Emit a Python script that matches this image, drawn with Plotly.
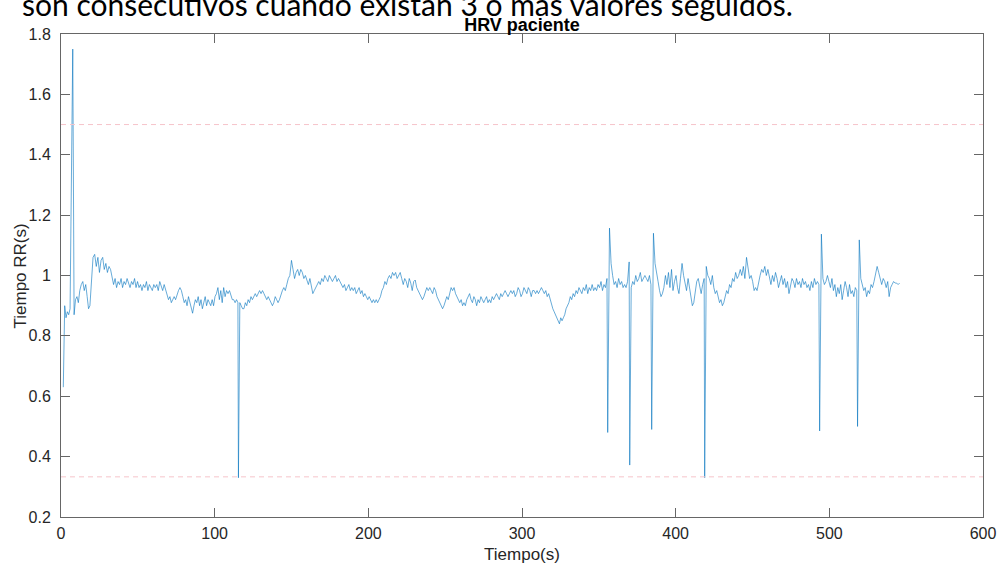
import numpy as np
import plotly.graph_objects as go

# RR intervals (s), beat by beat
rr_intervals = [
    0.63, 0.90, 0.86, 0.88, 0.87, 0.89, 1.75,
    0.87, 0.92, 0.93, 0.91, 0.95, 0.97, 0.98, 0.95, 0.97, 0.93, 0.89, 0.90, 0.97, 1.06,
    1.07, 1.03, 1.06, 1.01, 1.05, 1.06, 1.02, 1.04, 1.01, 1.03, 1.02, 0.99, 0.97,
    0.99, 0.96, 0.98, 0.97, 0.99, 0.96, 0.98, 0.97, 0.99, 0.97, 0.96, 0.98, 0.97, 0.99,
    0.96, 0.98, 0.96, 0.97, 0.95, 0.97, 0.96, 0.98, 0.95, 0.97, 0.96, 0.95, 0.97,
    0.96, 0.97, 0.95, 0.98, 0.96, 0.95, 0.97, 0.95,
    0.94, 0.92, 0.93, 0.91, 0.92, 0.93, 0.92, 0.94, 0.95, 0.96,
    0.95, 0.93, 0.91, 0.92, 0.90, 0.93, 0.91, 0.89, 0.875, 0.90, 0.92, 0.91, 0.93, 0.90,
    0.92, 0.89, 0.91, 0.93, 0.90, 0.92, 0.91, 0.90, 0.92, 0.90, 0.93,
    0.94, 0.96, 0.92, 0.95, 0.91, 0.96, 0.93, 0.95, 0.94, 0.95, 0.93, 0.92, 0.92, 0.91, 0.92, 0.91,
    0.33,
    0.91, 0.90, 0.89, 0.89, 0.91, 0.90, 0.92, 0.91, 0.93, 0.92, 0.93, 0.94, 0.93, 0.94,
    0.95, 0.94, 0.95, 0.94, 0.93, 0.92, 0.93, 0.92, 0.91, 0.90, 0.91, 0.93, 0.92, 0.91,
    0.92, 0.94, 0.95, 0.96, 0.95, 0.97, 0.99, 1.00, 1.05, 1.02, 0.99, 1.01,
    1.02, 1.00, 1.02, 1.01, 0.99, 1.00, 0.98, 0.97, 0.99, 0.96, 0.94, 0.95,
    0.96, 0.97, 0.98, 0.97, 0.99, 0.98, 1.00, 0.99, 0.98, 1.00, 0.99, 0.98, 0.99, 1.00, 0.98, 0.99, 0.98,
    0.97, 0.96, 0.97, 0.95, 0.96, 0.97, 0.95, 0.96, 0.95, 0.96, 0.94, 0.95, 0.96, 0.94,
    0.95, 0.93, 0.94, 0.93, 0.92, 0.93, 0.92, 0.91, 0.92, 0.91, 0.92,
    0.91, 0.92, 0.93, 0.95, 0.96, 0.98, 0.97, 0.99, 1.00, 0.99, 1.01, 1.00, 1.01, 0.99, 1.00, 1.01, 0.99,
    0.97, 0.99, 0.98, 0.96, 0.99, 0.975, 0.95, 0.98, 0.985, 0.96, 0.95, 0.94, 0.93, 0.92,
    0.93, 0.95, 0.96, 0.95, 0.96, 0.95, 0.94, 0.96, 0.95, 0.93, 0.92, 0.91, 0.90, 0.89,
    0.90, 0.92, 0.93, 0.92, 0.94, 0.96, 0.95, 0.96, 0.94, 0.93, 0.92, 0.91, 0.92, 0.90,
    0.91, 0.90, 0.92, 0.93, 0.94, 0.92, 0.91, 0.93, 0.92, 0.90, 0.92, 0.91, 0.93, 0.92, 0.91, 0.92, 0.93,
    0.91, 0.92, 0.91, 0.93, 0.92, 0.93, 0.94, 0.93, 0.92, 0.94, 0.93, 0.94, 0.95, 0.94, 0.93, 0.94,
    0.95, 0.94, 0.95, 0.93, 0.94, 0.96, 0.95, 0.93, 0.94, 0.96, 0.95, 0.94, 0.96, 0.95, 0.93, 0.95,
    0.95, 0.94, 0.95, 0.94, 0.95, 0.96, 0.95, 0.94, 0.95, 0.93, 0.94, 0.92, 0.90, 0.89,
    0.88, 0.87, 0.86, 0.85, 0.84, 0.86, 0.85, 0.86, 0.87, 0.89, 0.90, 0.91, 0.93, 0.92, 0.94, 0.93, 0.95,
    0.94, 0.96, 0.95,
    0.94, 0.96, 0.95, 0.97, 0.94, 0.96, 0.95, 0.97, 0.95, 0.96,
    0.95, 0.97, 0.96, 0.98, 0.95, 0.97, 0.96, 0.99,
    0.48, 1.157,
    1.04, 1.00, 0.97, 0.98, 0.96, 0.99, 0.97, 0.98, 0.96, 0.97, 0.96, 0.98,
    1.045, 0.372,
    0.96, 0.98, 0.97, 1.00, 0.98, 0.99, 1.01, 0.98, 0.99, 1.00, 0.99, 0.98, 1.00, 0.97,
    0.49, 1.14,
    1.04, 1.00, 0.98, 0.95, 0.93, 0.94, 0.96, 1.00, 0.97, 1.01, 0.96, 1.02, 0.95, 0.98,
    1.00, 0.96, 0.94, 0.99, 1.04, 1.00, 0.97, 0.95, 0.99, 0.96, 0.93, 0.90, 0.91, 0.95,
    0.98, 0.99, 0.96, 0.94, 0.97, 0.99,
    0.33, 1.03,
    1.00, 0.99, 0.97, 1.00, 0.96, 0.94, 0.95, 0.93, 0.91, 0.92, 0.90, 0.91, 0.93, 0.95,
    0.94, 0.97, 0.96, 0.99, 0.98, 1.01, 0.99, 1.00, 1.02, 1.00, 1.03, 0.99, 1.06,
    1.02, 0.99, 1.00, 0.98, 0.95, 0.96, 0.95, 0.98, 1.00, 1.02, 1.01, 1.03, 1.00, 1.02,
    0.99, 0.97, 1.00, 0.98, 1.01, 0.99, 0.96, 0.98, 1.00, 0.97, 0.99, 0.96, 0.98, 0.94,
    0.97, 0.99, 0.98, 0.96, 0.99, 0.97, 0.98, 0.96, 0.99, 0.97, 0.98, 0.96, 0.97, 0.95,
    0.98, 0.96, 0.99, 0.97, 0.98, 0.97,
    0.485, 1.137,
    0.99, 0.97, 0.98, 1.00, 0.98, 0.96, 0.99, 0.95, 0.97, 0.93, 0.96, 0.94, 0.97, 0.92,
    0.95, 0.98, 0.96, 0.93, 0.97, 0.94, 0.95, 0.93, 0.96, 0.95,
    0.50, 1.118,
    0.99, 0.97, 0.95, 0.96, 0.93, 0.95, 0.94, 0.97, 0.96, 0.98, 1.00, 1.03, 1.01, 0.99,
    0.97, 0.99, 0.98, 0.96, 0.98, 0.93, 0.96, 0.97, 0.98, 0.975, 0.975, 0.97, 0.975,
]

start_time = 1.5          # s, first detected beat
upper_limit = 1.5         # s, outlier thresholds
lower_limit = 0.333

x_ticks = [0, 100, 200, 300, 400, 500, 600]
y_ticks = [0.2, 0.4, 0.6, 0.8, 1.0, 1.2, 1.4, 1.6, 1.8]
y_tick_labels = ["0.2", "0.4", "0.6", "0.8", "1", "1.2", "1.4", "1.6", "1.8"]

rr = np.array(rr_intervals)
beat_times = start_time + np.cumsum(rr) - rr[0]

fig = go.Figure()

fig.add_trace(go.Scatter(
    x=beat_times, y=rr, mode="lines",
    line=dict(color="#0072BD", width=0.6),
    showlegend=False, hoverinfo="x+y",
))

for level in (upper_limit, lower_limit):
    fig.add_hline(y=level, line=dict(color="#F6C4CA", width=1, dash="5px,4px"))

FONT = "Liberation Sans, Arial, sans-serif"
tick_font = dict(family=FONT, size=16, color="#262626")
label_font = dict(family=FONT, size=17, color="#262626")

fig.update_layout(
    width=999, height=567,
    margin=dict(l=61, r=16, t=34, b=50, autoexpand=False),
    paper_bgcolor="white", plot_bgcolor="white",
    font=tick_font,
    title=dict(
        text="<b>HRV paciente</b>",
        x=0.5, xanchor="center", xref="paper",
        y=1, yref="paper", yanchor="bottom", pad=dict(b=3),
        font=dict(family=FONT, size=18, color="#000000"),
    ),
    xaxis=dict(
        range=[0, 600], tickvals=x_ticks,
        ticks="inside", ticklen=9, tickcolor="#666666", tickwidth=1,
        showline=True, linecolor="#666666", linewidth=1, mirror="ticks",
        showgrid=False, zeroline=False, automargin=False,
        tickfont=tick_font, ticklabelstandoff=2,
        title=dict(text="Tiempo(s)", font=label_font, standoff=6),
    ),
    yaxis=dict(
        range=[0.2, 1.8], tickvals=y_ticks, ticktext=y_tick_labels,
        ticks="inside", ticklen=9, tickcolor="#666666", tickwidth=1,
        showline=True, linecolor="#666666", linewidth=1, mirror="ticks",
        showgrid=False, zeroline=False, automargin=False,
        tickfont=tick_font, ticklabelstandoff=6,
    ),
)

# Y-axis label, placed a little closer to the tick labels
fig.add_annotation(
    text="Tiempo RR(s)", textangle=-90,
    xref="paper", yref="paper", x=-0.0434, y=0.5,
    xanchor="center", yanchor="middle", showarrow=False,
    font=label_font,
)

# Line of body text that precedes the figure on the page
fig.add_annotation(
    text="son consecutivos cuando existan 3 o más valores seguidos.",
    xref="paper", yref="paper", x=-0.045, y=1, xanchor="left", yanchor="bottom",
    yshift=10, showarrow=False,
    font=dict(family="Lato, Open Sans, sans-serif", size=30, color="#000000"),
)

fig.write_html("out.html")
